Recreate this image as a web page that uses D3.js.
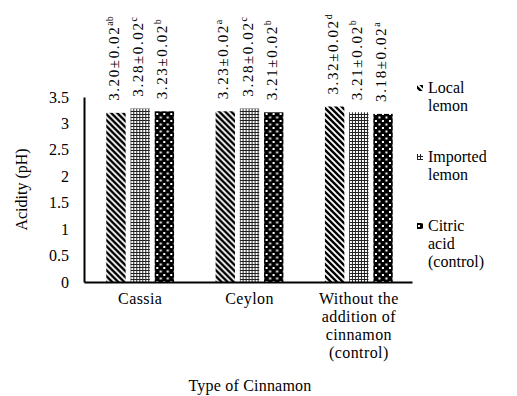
<!DOCTYPE html>
<html>
<head>
<meta charset="utf-8">
<script src="https://cdn.jsdelivr.net/npm/d3@7"></script>
<style>
  body { margin: 0; background: #fff; }
  svg text { font-family: "Liberation Serif", "Times New Roman", serif; fill: #000; }
</style>
</head>
<body>
<div id="chart"></div>
<script>
// data
const categories = ['Cassia', 'Ceylon', 'Without the addition of cinnamon (control)'];
const categoryLines = [['Cassia'], ['Ceylon'], ['Without the', 'addition of', 'cinnamon', '(control)']];
const series = ['Local lemon', 'Imported lemon', 'Citric acid (control)'];
const legendLines = [['Local', 'lemon'], ['Imported', 'lemon'], ['Citric', 'acid', '(control)']];
const localLemon = [3.20, 3.23, 3.32];
const importedLemon = [3.28, 3.28, 3.21];
const citricAcid = [3.23, 3.21, 3.18];
const sd = [[0.02, 0.02, 0.02], [0.02, 0.02, 0.02], [0.02, 0.02, 0.02]];
const letters = [['ab', 'a', 'd'], ['c', 'c', 'b'], ['b', 'b', 'a']];
const yTicks = [0, 0.5, 1, 1.5, 2, 2.5, 3, 3.5];

const values = [localLemon, importedLemon, citricAcid];

const width = 517, height = 396;
const margin = { top: 97, right: 105, bottom: 114, left: 84 };
const serif = '"Liberation Serif", "Times New Roman", serif';

const svg = d3.select('#chart').append('svg')
  .attr('width', width)
  .attr('height', height)
  .attr('font-family', serif);

// patterns
const defs = svg.append('defs');
const diag = defs.append('pattern').attr('id', 'p-diag')
  .attr('patternUnits', 'userSpaceOnUse').attr('width', 6).attr('height', 6);
diag.append('rect').attr('width', 6).attr('height', 6).attr('fill', '#fff');
diag.append('path').attr('d', 'M-1,-1 L7,7 M-4,2 L2,8 M2,-4 L8,2')
  .attr('stroke', '#000').attr('stroke-width', 2.4);

const grid = defs.append('pattern').attr('id', 'p-grid')
  .attr('patternUnits', 'userSpaceOnUse').attr('width', 3).attr('height', 3);
grid.append('rect').attr('width', 3).attr('height', 3).attr('fill', '#fff');
grid.append('rect').attr('width', 3).attr('height', 1).attr('fill', '#222');
grid.append('rect').attr('width', 1).attr('height', 3).attr('fill', '#222');

const dots = defs.append('pattern').attr('id', 'p-dots')
  .attr('patternUnits', 'userSpaceOnUse').attr('width', 7).attr('height', 7);
dots.append('rect').attr('width', 7).attr('height', 7).attr('fill', '#000');
dots.append('rect').attr('x', 1).attr('y', 1).attr('width', 2).attr('height', 2).attr('fill', '#fff');
dots.append('rect').attr('x', 4.5).attr('y', 4.5).attr('width', 2).attr('height', 2).attr('fill', '#fff');

const fills = ['url(#p-diag)', 'url(#p-grid)', 'url(#p-dots)'];

const x0 = d3.scaleBand()
  .domain(categories)
  .range([margin.left, width - margin.right])
  .paddingInner(0)
  .paddingOuter(0);

const groupW = x0.bandwidth() * 0.62;
const x1 = d3.scaleBand()
  .domain(series)
  .range([0, groupW])
  .paddingInner(0.2);

const y = d3.scaleLinear()
  .domain([0, 3.5])
  .range([height - margin.bottom, margin.top]);

// y axis
const yAxis = svg.append('g')
  .attr('transform', `translate(${margin.left},0)`)
  .call(d3.axisLeft(y).tickValues(yTicks).tickSize(0).tickPadding(15).tickFormat(d3.format('')));
yAxis.attr('font-family', serif).attr('font-size', 16);
yAxis.select('.domain').attr('stroke', '#000').attr('stroke-width', 2);

// bars
categories.forEach((cat, ci) => {
  const gx = x0(cat) + (x0.bandwidth() - groupW) / 2 + 1.5;
  const g = svg.append('g').attr('transform', `translate(${gx},0)`);
  series.forEach((s, si) => {
    const v = values[si][ci];
    g.append('rect')
      .attr('x', x1(s))
      .attr('y', y(v))
      .attr('width', x1.bandwidth())
      .attr('height', y(0) - y(v))
      .attr('fill', fills[si]);

    const cx = x1(s) + x1.bandwidth() / 2;
    const t = g.append('text')
      .attr('transform', `translate(${cx},${y(v) - 12}) rotate(-90)`)
      .attr('dominant-baseline', 'middle')
      .style('font-size', '15px')
      .style('letter-spacing', '1.6px');
    t.append('tspan').text(`${v.toFixed(2)}±${sd[si][ci].toFixed(2)}`);
    t.append('tspan')
      .attr('dy', -5)
      .style('font-size', '10px')
      .style('letter-spacing', '0px')
      .text(letters[si][ci]);
  });
});

// x axis
const xAxis = svg.append('g')
  .attr('transform', `translate(0,${y(0)})`)
  .call(d3.axisBottom(x0).tickSize(0).tickFormat(''));
xAxis.select('.domain').attr('stroke', '#000').attr('stroke-width', 2);

categories.forEach((cat, ci) => {
  const cx = x0(cat) + x0.bandwidth() / 2 + 1.5;
  const t = svg.append('text')
    .attr('x', cx)
    .attr('y', 304)
    .attr('text-anchor', 'middle')
    .style('font-size', '16px')
    .style('letter-spacing', '0.4px');
  categoryLines[ci].forEach((line, li) => {
    t.append('tspan')
      .attr('x', cx)
      .attr('dy', li === 0 ? 0 : 18)
      .text(line);
  });
});

// axis titles
svg.append('text')
  .attr('x', 250)
  .attr('y', 391)
  .attr('text-anchor', 'middle')
  .style('font-size', '16px')
  .style('letter-spacing', '0.2px')
  .text('Type of Cinnamon');

svg.append('text')
  .attr('transform', `translate(27,${(y(0) + y(3.5)) / 2}) rotate(-90)`)
  .attr('text-anchor', 'middle')
  .style('font-size', '16px')
  .text('Acidity (pH)');

// legend
const legendY = [93, 162, 231];
series.forEach((s, si) => {
  const g = svg.append('g').attr('transform', `translate(417,${legendY[si]})`);
  g.append('rect')
    .attr('x', 0).attr('y', -8)
    .attr('width', 6).attr('height', 6)
    .attr('fill', fills[si]);
  const t = g.append('text').attr('x', 11).attr('y', 0).style('font-size', '16px');
  legendLines[si].forEach((line, li) => {
    t.append('tspan').attr('x', 11).attr('dy', li === 0 ? 0 : 18).text(line);
  });
});
</script>
</body>
</html>
